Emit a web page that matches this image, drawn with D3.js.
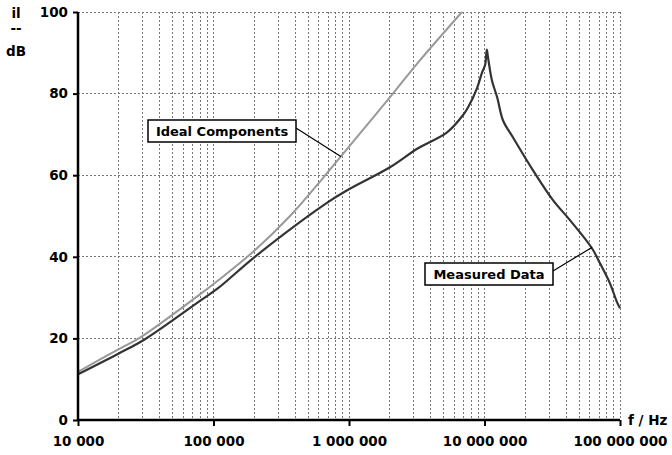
<!DOCTYPE html>
<html>
<head>
<meta charset="utf-8">
<script src="https://cdn.jsdelivr.net/npm/d3@7"></script>
<style>
  body { margin: 0; background: #fff; }
  text { font-family: "DejaVu Sans", sans-serif; font-weight: bold; fill: #000; }
</style>
</head>
<body>
<div id="chart"></div>
<script>
//Chart data (frequency in Hz, insertion loss in dB)
var idealFreq = [1e4, 2e4, 2.87e4, 7.94e4, 1.08e5, 2.02e5, 3.67e5, 6.31e5, 1e6, 2.11e6, 3.23e6, 6.82e6];
var idealDb = [11.8, 17.4, 20.2, 30.8, 34.2, 41.6, 50, 59, 67, 80, 87.6, 100];

var measFreq = [1e4, 2e4, 3.12e4, 7.94e4, 1.08e5, 2.02e5, 7e5, 9.7e5, 2.02e6, 3.23e6, 5.29e6,
    6.93e6, 7.55e6, 8.8e6, 9.6e6, 1.01e7, 1.04e7, 1.06e7, 1.135e7, 1.24e7, 1.37e7, 1.62e7,
    2.28e7, 3.2e7, 4.27e7, 6.21e7, 7.12e7, 8.43e7, 9.5e7, 1e8];
var measDb = [11.2, 16.3, 19.8, 29.2, 32.3, 40, 53.4, 56.3, 62, 66.6, 70.5,
    74.7, 76.6, 81.3, 85.2, 87, 90.8, 89, 83.2, 79.1, 73.4, 69.3,
    61.2, 53.9, 49, 42.1, 38.4, 33.5, 28.9, 27.4];

var xTicks = [1e4, 1e5, 1e6, 1e7, 1e8];
var xTickLabels = ["10 000", "100 000", "1 000 000", "10 000 000", "100 000 000"];
var yTicks = [0, 20, 40, 60, 80, 100];

//Set up chart
var svgWidth = 672;
var svgHeight = 455;

var margin = { top: 12, right: 52, bottom: 35, left: 78 };
var width = svgWidth - margin.left - margin.right;
var height = svgHeight - margin.top - margin.bottom;

var svg = d3.select("#chart").append("svg")
    .attr("width", svgWidth)
    .attr("height", svgHeight);

var chartGroup = svg.append("g")
    .attr("transform", `translate(${margin.left}, ${margin.top})`);

//Scales
var xScale = d3.scaleLog().domain([1e4, 1e8]).range([0, width]);
var yScale = d3.scaleLinear().domain([0, 100]).range([height, 0]);

//Grid lines: every 1..9 multiple of each decade
var minorFreqs = [];
for (var e = 4; e < 8; e++) {
    for (var m = 1; m <= 9; m++) minorFreqs.push(m * Math.pow(10, e));
}
minorFreqs.push(1e8);

chartGroup.append("g").selectAll("line")
    .data(minorFreqs.slice(1))
    .enter()
    .append("line")
    .attr("x1", d => xScale(d)).attr("x2", d => xScale(d))
    .attr("y1", 0).attr("y2", height)
    .attr("stroke", "#777")
    .attr("stroke-width", 1)
    .attr("stroke-dasharray", "2,2")
    .attr("shape-rendering", "crispEdges");

chartGroup.append("g").selectAll("line")
    .data(yTicks.slice(1))
    .enter()
    .append("line")
    .attr("x1", 0).attr("x2", width)
    .attr("y1", d => yScale(d)).attr("y2", d => yScale(d))
    .attr("stroke", "#777")
    .attr("stroke-width", 1)
    .attr("stroke-dasharray", "2,2")
    .attr("shape-rendering", "crispEdges");

//Lines
var line = d3.line()
    .x(d => xScale(d[0]))
    .y(d => yScale(d[1]))
    .curve(d3.curveCatmullRom.alpha(0.5));

var idealData = idealFreq.map((f, i) => [f, idealDb[i]]);
var measData = measFreq.map((f, i) => [f, measDb[i]]);

chartGroup.append("path")
    .datum(idealData)
    .attr("d", line)
    .attr("fill", "none")
    .attr("stroke", "#999")
    .attr("stroke-width", 2);

chartGroup.append("path")
    .datum(measData)
    .attr("d", line)
    .attr("fill", "none")
    .attr("stroke", "#333")
    .attr("stroke-width", 2.2);

//Axes
var bottomAxis = d3.axisBottom(xScale)
    .tickValues(xTicks)
    .tickFormat((d, i) => xTickLabels[i])
    .tickSize(6)
    .tickPadding(10);

var leftAxis = d3.axisLeft(yScale)
    .tickValues(yTicks)
    .tickSize(5)
    .tickPadding(5);

var xAxis = chartGroup.append("g")
    .attr("transform", `translate(0, ${height})`)
    .call(bottomAxis);

var yAxis = chartGroup.append("g")
    .call(leftAxis);

[xAxis, yAxis].forEach(function(ax) {
    ax.select(".domain").attr("stroke", "#000").attr("stroke-width", 2.5);
    ax.selectAll(".tick line").attr("stroke", "#000").attr("stroke-width", 2);
    ax.selectAll(".tick text").attr("font-size", "13.5px").attr("font-family", "DejaVu Sans").attr("font-weight", "bold");
});
xAxis.select(".domain").attr("d", `M0,0H${width}`);
yAxis.select(".domain").attr("d", `M0,0V${height}`);

//Axis titles
chartGroup.append("text")
    .attr("x", width + 8)
    .attr("y", height + 5)
    .attr("font-size", "13.5px")
    .text("f / Hz");

var yTitle = svg.append("g").attr("transform", "translate(16, 0)");
yTitle.append("text").attr("y", 18).attr("text-anchor", "middle").attr("font-size", "13.5px").text("il");
yTitle.append("text").attr("y", 33).attr("text-anchor", "middle").attr("font-size", "13.5px").text("--");
yTitle.append("text").attr("y", 56).attr("text-anchor", "middle").attr("font-size", "13.5px").text("dB");

//Callout labels
function callout(label, bx, by, bw, target) {
    var tx = xScale(target[0]);
    var ty = yScale(target[1]);
    chartGroup.append("line")
        .attr("x1", bx + bw).attr("y1", by + 8)
        .attr("x2", tx).attr("y2", ty)
        .attr("stroke", "#000").attr("stroke-width", 1.2);
    chartGroup.append("rect")
        .attr("x", bx).attr("y", by)
        .attr("width", bw).attr("height", 22)
        .attr("fill", "#fff")
        .attr("stroke", "#000").attr("stroke-width", 1.5);
    chartGroup.append("text")
        .attr("x", bx + bw / 2).attr("y", by + 16)
        .attr("text-anchor", "middle")
        .attr("font-size", "13px")
        .text(label);
}

callout("Ideal Components", 70, 108, 148, [8.7e5, 64.6]);
callout("Measured Data", 347, 251, 128, [6.2e7, 42.3]);
</script>
</body>
</html>
